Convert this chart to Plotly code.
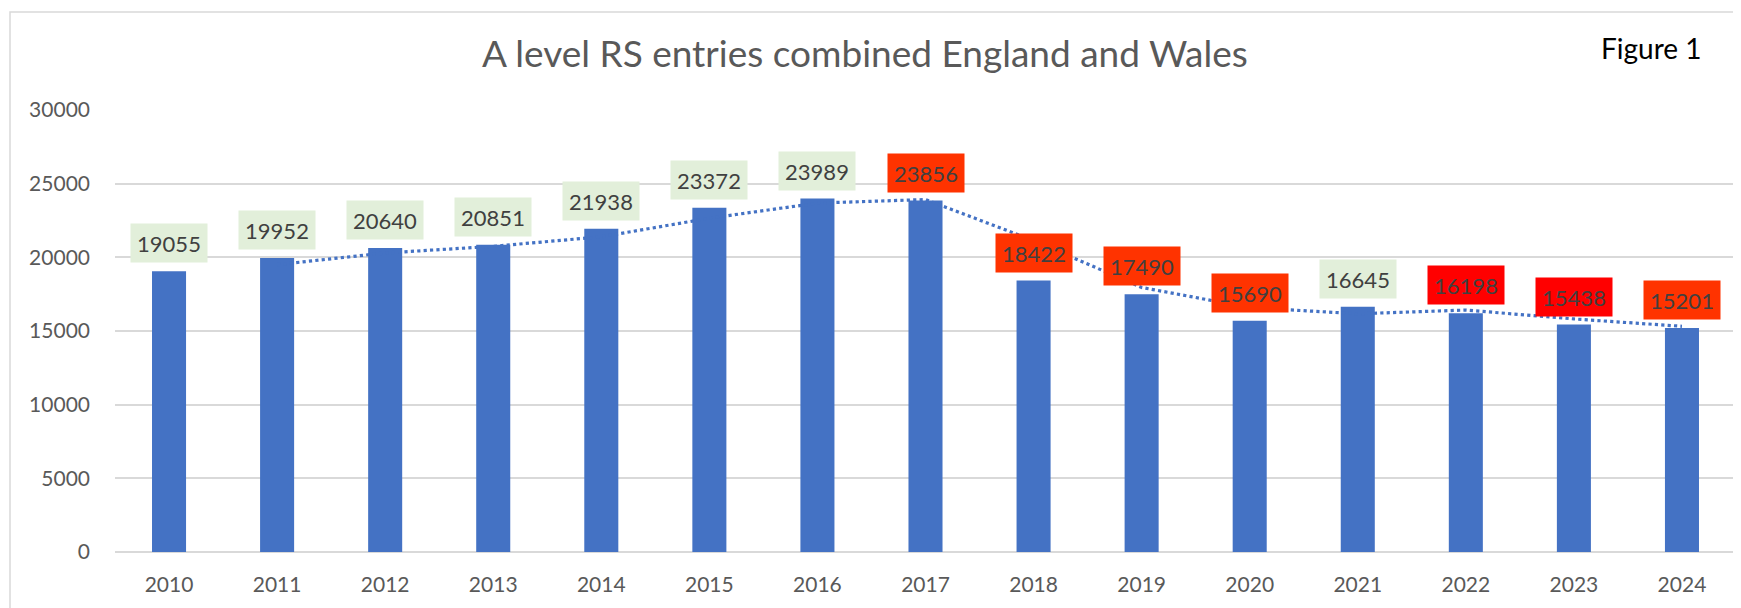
import plotly.graph_objects as go

years = [2010, 2011, 2012, 2013, 2014, 2015, 2016, 2017, 2018, 2019, 2020, 2021, 2022, 2023, 2024]
entries = [19055, 19952, 20640, 20851, 21938, 23372, 23989, 23856, 18422, 17490, 15690, 16645, 16198, 15438, 15201]
label_colors = ["#E2EFDA", "#E2EFDA", "#E2EFDA", "#E2EFDA", "#E2EFDA", "#E2EFDA", "#E2EFDA",
                "#FF3300", "#FF3300", "#FF3300", "#FF3300", "#E2EFDA", "#FF0000", "#FF0000", "#FF3300"]

# 2-period moving average trendline (values as drawn)
trend_years = [2011, 2012, 2013, 2014, 2015, 2016, 2017, 2018, 2019, 2020, 2021, 2022, 2023, 2024]
trend_values = [19504, 20296, 20746, 21395, 22655, 23681, 23923, 21139, 17956, 16590, 16168, 16422, 15818, 15320]

y_ticks = [0, 5000, 10000, 15000, 20000, 25000, 30000]

title_text = "A level RS entries combined England and Wales"
figure_text = "Figure 1"

FONT = "Lato"
OFF = 8  # page body margin
W, H = 1741 - OFF, 608 - OFF
L, R, T, B = 115 - OFF, 5, 110 - OFF, 56
pw, ph = W - L - R, H - T - B

def px_x(p):
    return (p - OFF - L) / pw

def px_y(p):
    return (H - B - (p - OFF)) / ph

fig = go.Figure()
fig.add_trace(go.Bar(
    x=years, y=entries, width=0.315,
    marker=dict(color="#4472C4", line=dict(width=0)),
    hoverinfo="x+y", showlegend=False,
))
fig.add_trace(go.Scatter(
    x=trend_years, y=trend_values, mode="lines",
    line=dict(color="#4472C4", width=3.2, dash="dot"),
    showlegend=False, hoverinfo="skip",
))

annotations = []
for yr, v, c in zip(years, entries, label_colors):
    annotations.append(dict(
        x=yr, y=v, xref="x", yref="y", text=str(v), showarrow=False,
        yanchor="bottom", xanchor="center", yshift=8,
        bgcolor=c, width=76, height=38, borderpad=0,
        font=dict(family=FONT, size=22, color="#404040"),
    ))

annotations.append(dict(
    x=px_x(865), y=px_y(52), xref="paper", yref="paper", text=title_text,
    showarrow=False, xanchor="center", yanchor="middle",
    font=dict(family=FONT, size=37, color="#595959"),
))
annotations.append(dict(
    x=px_x(1651), y=px_y(48), xref="paper", yref="paper", text=figure_text,
    showarrow=False, xanchor="center", yanchor="middle",
    font=dict(family=FONT, size=28, color="#000000"),
))

shapes = [dict(
    type="rect", xref="paper", yref="paper",
    x0=px_x(10), x1=px_x(1760), y0=px_y(640), y1=px_y(12),
    line=dict(color="#D9D9D9", width=1.5), fillcolor="rgba(0,0,0,0)", layer="below",
)]

fig.update_layout(
    width=W, height=H,
    margin=dict(l=L, r=R, t=T, b=B, pad=0),
    paper_bgcolor="white", plot_bgcolor="white",
    annotations=annotations,
    shapes=shapes,
    xaxis=dict(
        type="linear", range=[2009.5, 2024.5], tickvals=years,
        ticktext=[str(y) for y in years],
        showgrid=False, showline=False, zeroline=False,
        ticks="", tickfont=dict(family=FONT, size=21, color="#595959"),
        ticklabelstandoff=18,
    ),
    yaxis=dict(
        range=[0, 30000], tickvals=y_ticks, ticktext=[str(t) for t in y_ticks],
        showgrid=True, gridcolor="#D9D9D9", gridwidth=1.5,
        zeroline=True, zerolinecolor="#D9D9D9", zerolinewidth=1.5,
        showline=False, ticks="",
        tickfont=dict(family=FONT, size=21, color="#595959"),
        ticklabelstandoff=24,
    ),
)

fig.write_html("out.html")
